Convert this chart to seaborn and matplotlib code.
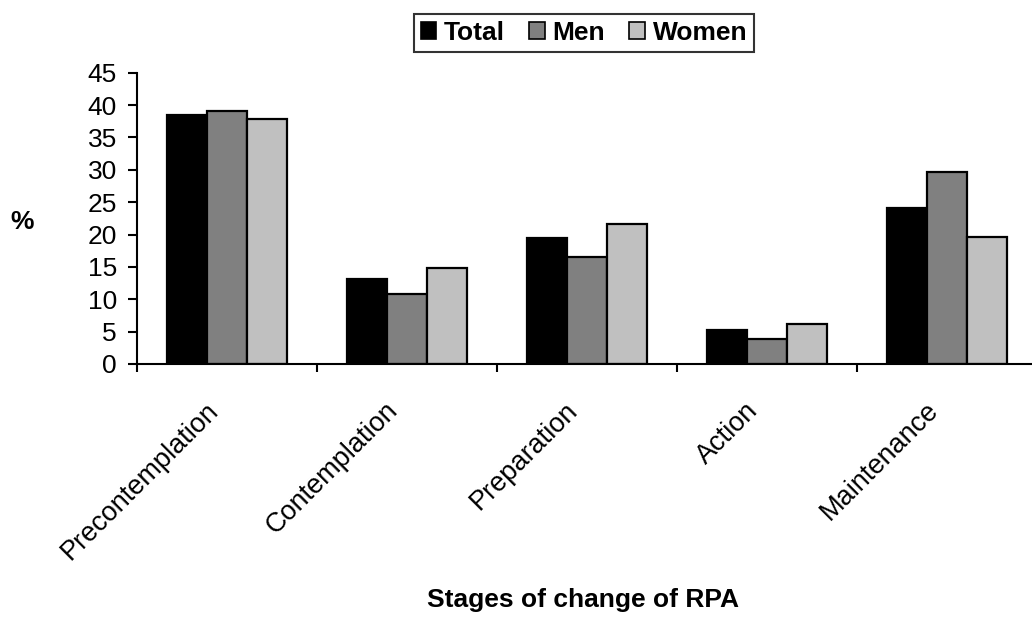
import pandas as pd
import matplotlib.pyplot as plt
import matplotlib.transforms as mtransforms
import seaborn as sns
from matplotlib.ticker import FixedLocator

# data
stages = ['Precontemplation', 'Contemplation', 'Preparation', 'Action', 'Maintenance']
total = [38.4, 13.1, 19.5, 5.2, 24.1]
men = [39.1, 10.8, 16.6, 3.9, 29.7]
women = [37.8, 14.8, 21.7, 6.2, 19.6]
groups = ['Total', 'Men', 'Women']
colors = ['#000000', '#808080', '#c0c0c0']

df = pd.DataFrame({'Stage': stages * 3,
                   'Group': [g for g in groups for _ in stages],
                   'Value': total + men + women})

sns.set_style('white')
plt.rcParams['font.family'] = ['Liberation Sans', 'DejaVu Sans']
plt.rcParams.update({'text.color': 'black', 'xtick.color': 'black',
                     'ytick.color': 'black', 'axes.labelcolor': 'black'})
fs = 19

fig = plt.figure(figsize=(10.32, 6.2), dpi=100)
ax = fig.add_axes([137 / 1032, 1 - 364 / 620, 900 / 1032, (364 - 72.7) / 620])

sns.barplot(data=df, x='Stage', y='Value', hue='Group', order=stages,
            hue_order=groups, palette=colors, width=0.67,
            edgecolor='black', linewidth=1.6, ax=ax)

ax.set_ylim(0, 45)
ax.set_xlim(-0.5, 4.5)
ax.set_yticks(range(0, 50, 5))
ax.tick_params(axis='y', labelsize=fs, length=6.5, width=1.5, direction='out', pad=8, left=True)
ax.tick_params(axis='x', which='major', length=0, labelsize=19.5, pad=24)
ax.xaxis.set_minor_locator(FixedLocator([-0.5, 0.5, 1.5, 2.5, 3.5, 4.5]))
ax.tick_params(axis='x', which='minor', length=6, width=1.5, direction='out', bottom=True)
shift = mtransforms.ScaledTranslation(-0.22, 0, fig.dpi_scale_trans)
for lbl in ax.get_xticklabels():
    lbl.set_rotation(45)
    lbl.set_ha('right')
    lbl.set_va('top')
    lbl.set_rotation_mode('anchor')
    lbl.set_transform(lbl.get_transform() + shift)

sns.despine(ax=ax)
for s in ['left', 'bottom']:
    ax.spines[s].set_linewidth(1.5)
    ax.spines[s].set_color('black')

ax.set_xlabel('')
ax.set_ylabel('')
fig.text(583 / 1032, 1 - 600 / 620, 'Stages of change of RPA', fontsize=fs,
         fontweight='bold', ha='center', va='center')
fig.text(22 / 1032, 1 - 222 / 620, '%', fontsize=fs, fontweight='bold',
         ha='center', va='center')

leg = ax.legend(loc='center', bbox_to_anchor=(584 / 1032, 1 - 33 / 620),
                bbox_transform=fig.transFigure, ncol=3, frameon=True,
                fancybox=False, edgecolor='black', handlelength=0.6,
                handleheight=0.6, handletextpad=0.3, columnspacing=0.9,
                borderpad=0.25, borderaxespad=0, prop={'size': fs, 'weight': 'bold'})
leg.get_frame().set_linewidth(1.5)
for h in leg.legend_handles:
    h.set_edgecolor('black')
    h.set_linewidth(1.2)

fig.savefig('out.png', dpi=100)
